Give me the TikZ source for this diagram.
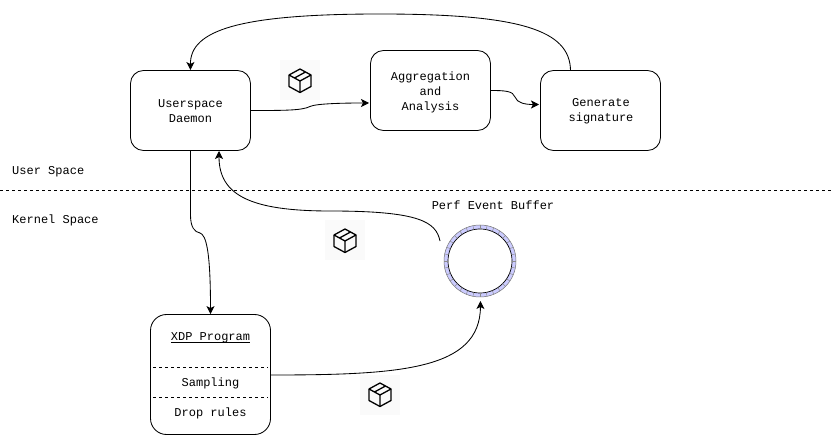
\documentclass[tikz,border=0pt]{standalone}
\usepackage{fontspec}
\setmainfont{Liberation Mono}
\usetikzlibrary{arrows.meta}
\definecolor{ringfill}{HTML}{CCCCFF}
\tikzset{
  x=1pt,y=-1pt,
  every node/.style={font=\fontsize{12pt}{15pt}\selectfont,align=center,inner sep=0pt},
  box/.style={draw=black,line width=0.85pt,rounded corners=13pt,fill=white,minimum width=120pt,minimum height=80pt},
  conn/.style={draw=black,line width=0.85pt,-{Stealth[length=8pt,width=8pt,inset=2pt]}},
  sepline/.style={draw=black,line width=0.8pt,dash pattern=on 3pt off 3pt},
  lbl/.style={anchor=base west},
  parcel/.pic={
    \fill[white!98!black] (-20,-20) rectangle (20,20);
    \draw[black,line width=1.3pt,line join=round] (0,-11.5) -- (11,-5.5) -- (11,6) -- (0,12) -- (-11,6) -- (-11,-5.5) -- cycle;
    \draw[black,line width=1.3pt,line join=round] (-11,-5.5) -- (0,0.5) -- (11,-5.5) (0,0.5) -- (0,12) (-5.5,-2.5) -- (5.5,-8.5);
  }
}
\begin{document}
\begin{tikzpicture}
\useasboundingbox (0,0) rectangle (832,435);
\fill[white] (0,0) rectangle (832,435);
\node[box] (daemon) at (190.5,110.5) {};
\node (dtext) at (190.5,111) {Userspace\\Daemon};
\node[box] (agg) at (430.5,90.5) {};
\node (agtext) at (430.5,92) {Aggregation\\and\\Analysis};
\node[box] (sig) at (600.5,110.5) {};
\node (stext) at (601,111) {Generate\\signature};
\node[box,minimum height=120pt,rounded corners=16pt] (xdp) at (210.5,374.5) {};
\node[anchor=base] (xdptitle) at (210.5,341) {\underline{\smash{XDP Program}}};
\node (samp) at (210.5,383) {Sampling};
\node (drop) at (210.5,413) {Drop rules};
\coordinate (s1l) at (153,367.5); \coordinate (s1r) at (268,367.5);
\coordinate (s2l) at (153,397.5); \coordinate (s2r) at (268,397.5);
\draw[sepline] (s1l) -- (s1r);
\draw[sepline] (s2l) -- (s2r);
% divider
\coordinate (dl) at (0,190.5); \coordinate (dr) at (832,190.5);
\draw[sepline] (dl) -- (dr);
\node[lbl] (us) at (12,175) {User Space};
\node[lbl] (ks) at (12,224) {Kernel Space};
\node (peb) at (493,205) {Perf Event Buffer};
% ring
\node[circle,minimum size=72pt,inner sep=0pt] (ring) at (480,261) {};
\fill[ringfill,even odd rule] (480,261) circle (36) (480,261) circle (32);
\draw[black!55,line width=0.5pt] (480,261) circle (36);
\draw[black,line width=0.7pt] (480,261) circle (32);
\foreach \a in {0,11.25,...,349}
  \draw[black!45,line width=0.5pt] (480,261) ++(\a:32) -- ++(\a:4);
% icons
\pic at (300,80.5) {parcel};
\pic at (345,240.5) {parcel};
\pic at (380,394.5) {parcel};
% connector ends
\coordinate (aggin) at (369,103);
\coordinate (aggout) at (490.5,90.5);
\coordinate (sigin) at (539,104.5);
\coordinate (sigtop) at (570.5,70.5);
\coordinate (dtop) at (190.5,70);
\coordinate (ringout) at (440,241);
\coordinate (din) at (219,151);
\coordinate (ringin) at (480.5,301);
\coordinate (xout) at (270.5,375);
\path[conn] (daemon.east) .. controls (285,110.5) and (302,110.5) .. (310,106.5) .. controls (316,103.5) and (345,103) .. (aggin);
\path[conn] (aggout) .. controls (505,90.5) and (513,91) .. (515,97) .. controls (517,103) and (525,104.5) .. (sigin);
\path[conn] (sigtop) .. controls (570,30) and (520,14) .. (380,14) .. controls (240,14) and (190,30) .. (dtop);
\path[conn] (daemon.south) -- (190.5,215) .. controls (190.5,228) and (195,232) .. (200,233) .. controls (206,235) and (210.5,250) .. (xdp.north);
\path[conn] (ringout) .. controls (436,222) and (420,211) .. (330,211) .. controls (250,211) and (219,195) .. (din);
\path[conn] (xout) .. controls (400,375) and (480,370) .. (ringin);
\end{tikzpicture}
\end{document}
